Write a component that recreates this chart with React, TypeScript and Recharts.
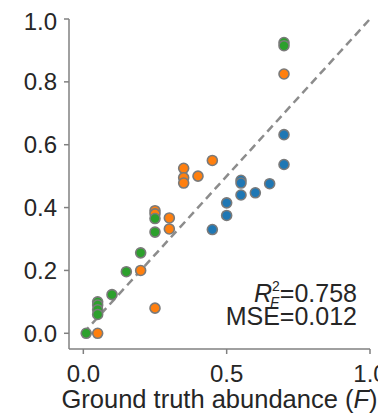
import React from "react";
import {
  ScatterChart,
  Scatter,
  XAxis,
  YAxis,
  ReferenceLine,
} from "recharts";

// Abundance estimates for three component groups
const blueX = [0.45, 0.5, 0.5, 0.55, 0.55, 0.55, 0.6, 0.65, 0.7, 0.7];
const blueY = [0.33, 0.415, 0.375, 0.487, 0.478, 0.44, 0.447, 0.476, 0.537, 0.632];

const orangeX = [0.05, 0.2, 0.25, 0.25, 0.25, 0.3, 0.3, 0.35, 0.35, 0.35, 0.4, 0.45, 0.7];
const orangeY = [0.0, 0.2, 0.08, 0.39, 0.38, 0.367, 0.332, 0.525, 0.495, 0.478, 0.5, 0.55, 0.825];

const greenX = [0.01, 0.05, 0.05, 0.05, 0.05, 0.1, 0.15, 0.2, 0.25, 0.25, 0.7, 0.7];
const greenY = [0.0, 0.1, 0.09, 0.075, 0.06, 0.123, 0.196, 0.256, 0.365, 0.322, 0.925, 0.915];

const xTicks = [0, 0.5, 1.0];
const yTicks = [0, 0.2, 0.4, 0.6, 0.8, 1.0];

const r2Text = "=0.758";
const mseText = "MSE=0.012";

const zip = (xs: number[], ys: number[]) => xs.map((x, i) => ({ x, y: ys[i] }));
const blueData = zip(blueX, blueY);
const orangeData = zip(orangeX, orangeY);
const greenData = zip(greenX, greenY);

const FONT = "'Liberation Sans', Arial, Helvetica, sans-serif";
const TEXT = "#262626";
const SPINE = "#808080";

const makeDot = (fill: string) => (props: any) => {
  const { cx, cy } = props;
  if (cx == null || cy == null) return <g />;
  return <circle cx={cx} cy={cy} r={5} fill={fill} stroke="#7a7a7a" strokeWidth={1.6} />;
};

const XLabel = (props: any) => {
  const vb = props.viewBox || {};
  const cx = vb.x + vb.width / 2;
  const y = vb.y + vb.height - 9;
  return (
    <text x={cx} y={y} textAnchor="middle" fontSize={25.5} fill={TEXT} fontFamily={FONT}>
      Ground truth abundance (<tspan fontStyle="italic">F</tspan>)
    </text>
  );
};

export default function App() {
  return (
    <div style={{ position: "relative", width: 378, height: 409 }}>
      <ScatterChart
        width={378}
        height={409}
        margin={{ top: 11, right: 16, left: 0, bottom: 0 }}
      >
        <XAxis
          type="number"
          dataKey="x"
          domain={[-0.05, 1.0]}
          ticks={xTicks}
          tickFormatter={(v: number) => v.toFixed(1)}
          height={68}
          tickSize={5}
          tickMargin={11}
          stroke={SPINE}
          axisLine={{ stroke: SPINE, strokeWidth: 1.5 }}
          tickLine={{ stroke: SPINE, strokeWidth: 1.5 }}
          tick={{ fill: TEXT, fontSize: 24, fontFamily: FONT }}
          allowDataOverflow
          label={<XLabel />}
        />
        <YAxis
          type="number"
          dataKey="y"
          domain={[-0.05, 1.0]}
          ticks={yTicks}
          tickFormatter={(v: number) => v.toFixed(1)}
          width={61}
          tickSize={5}
          tickMargin={7}
          stroke={SPINE}
          axisLine={{ stroke: SPINE, strokeWidth: 1.5 }}
          tickLine={{ stroke: SPINE, strokeWidth: 1.5 }}
          tick={{ fill: TEXT, fontSize: 24, fontFamily: FONT }}
          allowDataOverflow
        />
        <ReferenceLine
          segment={[
            { x: 0, y: 0 },
            { x: 1, y: 1 },
          ]}
          stroke="#8c8c8c"
          strokeWidth={2.5}
          strokeDasharray="8 5"
          ifOverflow="visible"
        />
        <Scatter data={blueData} isAnimationActive={false} shape={makeDot("#1f77b4")} />
        <Scatter data={orangeData} isAnimationActive={false} shape={makeDot("#ff7f0e")} />
        <Scatter data={greenData} isAnimationActive={false} shape={makeDot("#2ca02c")} />
      </ScatterChart>
      <svg
        width={378}
        height={409}
        style={{ position: "absolute", left: 0, top: 0, pointerEvents: "none" }}
      >
        <text x={349} y={294} textAnchor="end" fontSize={25} fill={TEXT} fontFamily={FONT}>
          <tspan fontStyle="italic">R</tspan>
          <tspan dy={-11} fontSize={14}>2</tspan>
          <tspan dx={-9.5} dy={16} fontSize={14} fontStyle="italic">F</tspan>
          <tspan dx={1} dy={-5}>{r2Text}</tspan>
        </text>
        <text x={349} y={317} textAnchor="end" fontSize={25} fill={TEXT} fontFamily={FONT}>
          {mseText}
        </text>
      </svg>
    </div>
  );
}
